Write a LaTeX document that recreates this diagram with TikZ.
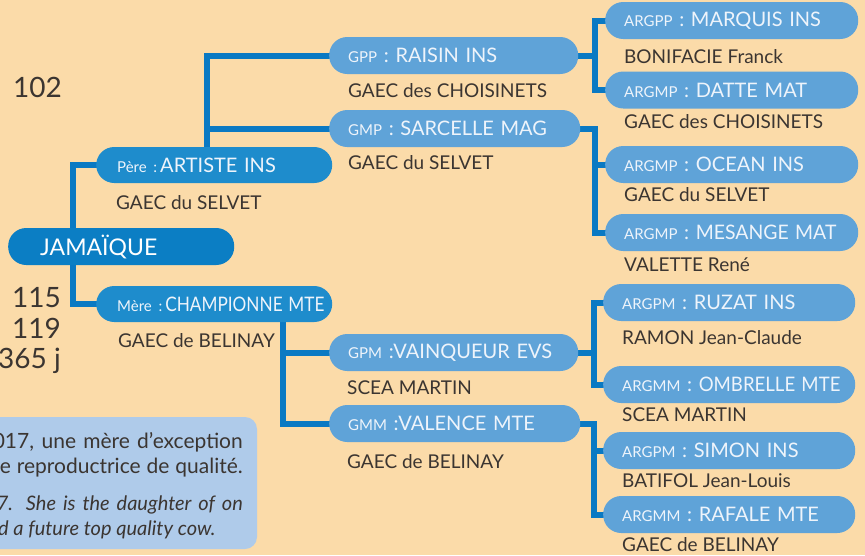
\documentclass[tikz,border=0pt]{standalone}
\usepackage{fontspec}
\setmainfont{Lato}
\usetikzlibrary{calc}
\definecolor{bgc}{HTML}{FBDBA9}
\definecolor{jamc}{HTML}{0B7EC4}
\definecolor{parc}{HTML}{1E8CCC}
\definecolor{gpc}{HTML}{5FA3D8}
\definecolor{connc}{HTML}{0A79C3}
\definecolor{boxc}{HTML}{AFCBEA}
\definecolor{txtc}{HTML}{3B3531}
\definecolor{pilltxt}{HTML}{EEF4FB}
\pgfdeclarelayer{back}
\pgfsetlayers{back,main}
\newcommand\pre[1]{{\fontsize{15}{15}\selectfont #1}}
\tikzset{
  pill/.style={rounded corners=18pt, minimum height=37pt, anchor=west, inner ysep=0pt,
    inner xsep=19pt, align=left, text=pilltxt, fill=gpc, font=\fontsize{20}{24}\selectfont},
  sub/.style={anchor=base west, inner sep=0pt, text=txtc, font=\fontsize{19}{23}\selectfont},
  num/.style={anchor=base east, inner sep=0pt, text=txtc, font=\fontsize{28}{32}\selectfont},
  boxtxt/.style={anchor=base east, inner sep=0pt, text=txtc, font=\fontsize{21}{25}\selectfont},
  boxit/.style={inner sep=0pt, text=txtc, font=\fontsize{20}{24}\selectfont\itshape},
  conn/.style={line width=6pt, draw=connc}
}
\begin{document}
\begin{tikzpicture}[x=1pt,y=-1pt]
\useasboundingbox (0,0) rectangle (865,555);
% pills
\node[pill, fill=jamc, text=white, inner xsep=32pt, text width=162pt, font=\fontsize{23}{26}\selectfont] (jam) at (8,246.5) {\mbox{JAMAÏQUE}};
\node[pill, fill=parc, minimum height=36pt, inner xsep=21pt, text width=194pt] (pere) at (96,165) {\mbox{\pre{Père :}\hspace{3pt}ARTISTE INS}};
\node[pill, fill=parc, minimum height=36pt, inner xsep=21pt, text width=194pt] (mere) at (96,304) {\mbox{\pre{Mère :}\hspace{3pt}\scalebox{0.86}[1]{CHAMPIONNE MTE}}};
\node[pill, text width=211pt] (gpp) at (329,55.5) {\mbox{\pre{GPP} : RAISIN INS}};
\node[pill, text width=213pt] (gmp) at (329,128.5) {\mbox{\pre{GMP} : SARCELLE MAG}};
\node[pill, text width=211pt] (gpm) at (329,352.5) {\mbox{\pre{GPM} :VAINQUEUR EVS}};
\node[pill, text width=213pt] (gmm) at (329,423.5) {\mbox{\pre{GMM} :VALENCE MTE}};
\node[pill, text width=215pt] (a1) at (605,20.5) {\mbox{\pre{ARGPP} : MARQUIS INS}};
\node[pill, text width=215pt] (a2) at (605,90) {\mbox{\pre{ARGMP} : DATTE MAT}};
\node[pill, text width=215pt] (a3) at (605,164.5) {\mbox{\pre{ARGMP} : OCEAN INS}};
\node[pill, text width=215pt] (a4) at (605,232.5) {\mbox{\pre{ARGMP} : \scalebox{0.97}[1]{MESANGE MAT}}};
\node[pill, text width=214pt] (a5) at (603,302.5) {\mbox{\pre{ARGPM} : RUZAT INS}};
\node[pill, text width=214pt] (a6) at (603,384.5) {\mbox{\pre{ARGMM} : \scalebox{0.93}[1]{OMBRELLE MTE}}};
\node[pill, text width=214pt] (a7) at (603,450.5) {\mbox{\pre{ARGPM} : SIMON INS}};
\node[pill, text width=214pt] (a8) at (603,514.5) {\mbox{\pre{ARGMM} : RAFALE MTE}};
% breeders
\node[sub] (sp) at (116,209) {GAEC du SELVET};
\node[sub] (sm) at (118,347) {GAEC de BELINAY};
\node[sub] (s1) at (348,97) {GAEC des CHOISINETS};
\node[sub] (s2) at (348,169) {GAEC du SELVET};
\node[sub] (s3) at (347,394) {SCEA MARTIN};
\node[sub] (s4) at (347,468) {GAEC de BELINAY};
\node[sub] (b1) at (624,63) {BONIFACIE Franck};
\node[sub] (b2) at (624,128) {GAEC des CHOISINETS};
\node[sub] (b3) at (624,201) {GAEC du SELVET};
\node[sub] (b4) at (624,271) {VALETTE René};
\node[sub] (b5) at (622,344) {RAMON Jean-Claude};
\node[sub] (b6) at (622,421) {SCEA MARTIN};
\node[sub] (b7) at (622,487) {BATIFOL Jean-Louis};
\node[sub] (b8) at (622,551) {GAEC de BELINAY};
% numbers
\node[num] (n1) at (62,97) {102};
\node[num] (n2) at (61,307) {115};
\node[num] (n3) at (61,338) {119};
\node[num] (n4) at (61,368) {365 j};
% connector coordinates
\coordinate (jamx) at (73,246.5);
\coordinate (pereup) at (207,165);
\coordinate (meredn) at (283,304);
\coordinate (gppr) at (595,55.5);
\coordinate (gmpr) at (595,128.5);
\coordinate (gpmr) at (594,352.5);
\coordinate (gmmr) at (594,423.5);
\begin{pgfonlayer}{back}
\fill[bgc] (0,0) rectangle (865,555);
\fill[boxc, rounded corners=12pt] (-20,417) rectangle (257,549);
\draw[conn] ([xshift=4pt]pere.west) -| (jamx) |- ([xshift=4pt]mere.west);
\draw[conn] ([xshift=4pt]gpp.west) -| (pereup);
\draw[conn] ([xshift=4pt]gmp.west) -| (pereup);
\draw[conn] ([xshift=4pt]gpm.west) -| (meredn);
\draw[conn] ([xshift=4pt]gmm.west) -| (meredn);
\draw[conn] ([xshift=-4pt]gpp.east) -- (gppr);
\draw[conn] ([xshift=4pt]a1.west) -| (gppr) |- ([xshift=4pt]a2.west);
\draw[conn] ([xshift=-4pt]gmp.east) -- (gmpr) |- ([xshift=4pt]a4.west);
\draw[conn] ([xshift=4pt]a3.west) -- (a3.west -| gmpr);
\draw[conn] ([xshift=-4pt]gpm.east) -- (gpmr);
\draw[conn] ([xshift=4pt]a5.west) -| (gpmr) |- ([xshift=4pt]a6.west);
\draw[conn] ([xshift=-4pt]gmm.east) -- (gmmr) |- ([xshift=4pt]a8.west);
\draw[conn] ([xshift=4pt]a7.west) -- (a7.west -| gmmr);
\end{pgfonlayer}
% box text
\node[boxtxt] (t1) at (243,448) {\makebox[250pt][s]{017, une mère d’exception}};
\node[boxtxt] (t2) at (243,473) {\makebox[243pt][s]{e reproductrice de qualité.}};
\node[boxit, anchor=base east] (t3) at (243,510) {\makebox[246pt][s]{7. She is the daughter of on}};
\node[boxit, anchor=base west] (t4) at (-2,535) {d a future top quality cow.};
\end{tikzpicture}
\end{document}
